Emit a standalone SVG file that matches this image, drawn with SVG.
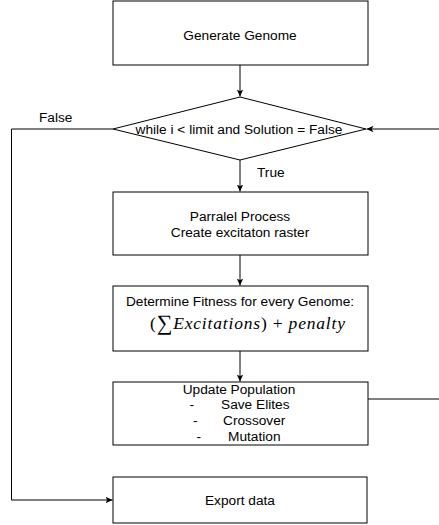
<svg xmlns="http://www.w3.org/2000/svg" width="439" height="525" viewBox="0 0 439 525">
<style>
.box{fill:#fff;stroke:#000;stroke-width:1}
.t{font-family:"Liberation Sans",Arial,sans-serif;font-size:13.7px;fill:#000;text-anchor:middle}
.tl{font-family:"Liberation Sans",Arial,sans-serif;font-size:13.7px;fill:#000}
.e{stroke:#000;stroke-width:1;fill:none}
.m{font-family:"Liberation Serif","Times New Roman",serif;font-size:17.5px;fill:#000}
</style>
<defs>
<marker id="a" markerUnits="userSpaceOnUse" markerWidth="8" markerHeight="8" refX="7" refY="4" orient="auto">
<path d="M0,0.8 L7,4 L0,7.2 L1.8,4 Z" fill="#000"/>
</marker>
</defs>
<rect width="439" height="525" fill="#fff"/>
<g id="connectors">
<path class="e" d="M240,65 V96.5" marker-end="url(#a)"/>
<path class="e" d="M240,160 V191.5" marker-end="url(#a)"/>
<path class="e" d="M240,255 V285.5" marker-end="url(#a)"/>
<path class="e" d="M240,351 V381.5" marker-end="url(#a)"/>
<path class="e" d="M113,129 H11.5 V500 H112.5" marker-end="url(#a)"/>
<path class="e" d="M368,399 H440"/>
<path class="e" d="M440,129 H366.5" marker-end="url(#a)"/>
<text class="tl" x="39" y="122">False</text>
<text class="tl" x="257" y="177">True</text>
</g>
<g id="generate">
<rect class="box" x="113" y="1" width="255" height="64"/>
<text class="t" x="240" y="40">Generate Genome</text>
</g>
<g id="while">
<polygon class="box" points="240,97 366,129 240,160 113,129"/>
<text class="t" x="239" y="134">while i &lt; limit and Solution = False</text>
</g>
<g id="parallel">
<rect class="box" x="113" y="192" width="255" height="63"/>
<text class="t" x="240" y="220.5">Parralel Process</text>
<text class="t" x="240" y="236.5">Create excitaton raster</text>
</g>
<g id="fitness">
<rect class="box" x="113" y="286" width="255" height="65"/>
<text class="t" x="240" y="305.5">Determine Fitness for every Genome:</text>
<text class="m" x="150" y="328.5" textLength="195" lengthAdjust="spacing">(<tspan font-size="22" dy="1">∑</tspan><tspan dy="-1" font-style="italic">Excitations</tspan>) + <tspan font-style="italic">penalty</tspan></text>
</g>
<g id="update">
<rect class="box" x="113" y="382" width="255" height="63"/>
<text class="t" x="239" y="394">Update Population</text>
<text class="tl" x="189.5" y="409">-</text>
<text class="tl" x="221" y="409">Save Elites</text>
<text class="tl" x="193" y="425">-</text>
<text class="tl" x="223" y="425">Crossover</text>
<text class="tl" x="196.5" y="441">-</text>
<text class="tl" x="228" y="441">Mutation</text>
</g>
<g id="export">
<rect class="box" x="113" y="477" width="254" height="46"/>
<text class="t" x="240" y="505">Export data</text>
</g>
</svg>
